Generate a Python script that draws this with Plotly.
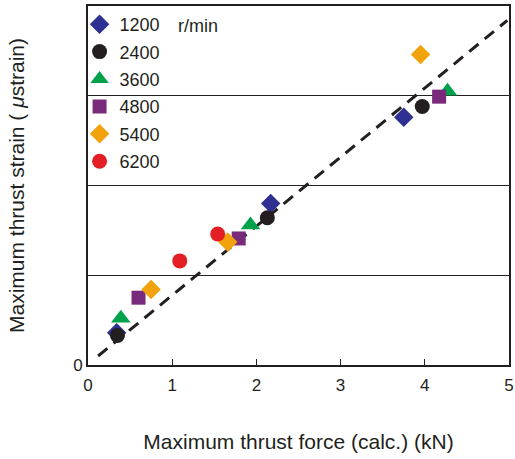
import plotly.graph_objects as go

# ---- data ----
speeds = ["1200", "2400", "3600", "4800", "5400", "6200"]
force_1200 = [0.34, 2.17, 3.75]
strain_1200 = [0.36, 1.80, 2.76]
force_2400 = [0.35, 2.13, 3.97]
strain_2400 = [0.33, 1.64, 2.88]
force_3600 = [0.39, 1.93, 4.27]
strain_3600 = [0.52, 1.56, 3.05]
force_4800 = [0.60, 1.79, 4.17]
strain_4800 = [0.75, 1.41, 2.99]
force_5400 = [0.75, 1.66, 3.95]
strain_5400 = [0.84, 1.37, 3.46]
force_6200 = [1.09, 1.54]
strain_6200 = [1.16, 1.46]
fit_force = [0.12, 4.98]
fit_strain = [0.10, 3.84]

x_ticks = [0, 1, 2, 3, 4, 5]
y_ticks = [0, 1, 2, 3, 4]
y_ticktext = ["0", "", "", "", ""]

series = [
    (speeds[0], force_1200, strain_1200, "diamond", "#2e3192", 15),
    (speeds[1], force_2400, strain_2400, "circle", "#231f20", 15),
    (speeds[2], force_3600, strain_3600, "triangle-up", "#00a14b", 17),
    (speeds[3], force_4800, strain_4800, "square", "#7a2a7a", 14),
    (speeds[4], force_5400, strain_5400, "diamond", "#f2a20c", 15),
    (speeds[5], force_6200, strain_6200, "circle", "#e31e24", 15),
]

TXT = "#231f20"
FONT = "Liberation Sans, Arial, sans-serif"

fig = go.Figure()
fig.add_trace(go.Scatter(
    x=fit_force, y=fit_strain, mode="lines", showlegend=False,
    line=dict(color=TXT, width=3, dash="12px,8px"), hoverinfo="skip"))

for name, xs, ys, sym, col, sz in series:
    fig.add_trace(go.Scatter(
        x=xs, y=ys, mode="markers", name=name, legendgroup=name,
        marker=dict(symbol=sym, color=col, size=sz, line=dict(width=0))))

fig.update_layout(
    width=515, height=459,
    margin=dict(l=87.5, r=6, t=6, b=94),
    paper_bgcolor="white", plot_bgcolor="white",
    font=dict(family=FONT, size=17, color=TXT),
    showlegend=True,
    legend=dict(x=-0.02, y=1, xanchor="left", yanchor="top",
                bgcolor="rgba(0,0,0,0)", borderwidth=0,
                font=dict(size=18, color=TXT), tracegroupgap=1,
                itemsizing="trace"),
    shapes=[dict(type="rect", xref="paper", yref="paper",
                 x0=0.004, x1=0.188, y0=0.505, y1=0.995,
                 fillcolor="white", line=dict(width=0), layer="between")],
    annotations=[dict(text="r/min", x=0.261, y=0.944, xref="paper", yref="paper",
                      xanchor="center", yanchor="middle",
                      showarrow=False, font=dict(size=18, color=TXT))],
)
fig.update_xaxes(
    range=[0, 5], tickvals=x_ticks, ticks="inside", ticklen=6, tickwidth=1,
    tickcolor=TXT, showgrid=False, zeroline=False, automargin=False,
    showline=True, linecolor=TXT, linewidth=2, mirror=True,
    tickfont=dict(size=17, color=TXT), ticklabelstandoff=4,
    ticklabeloverflow="allow",
    title=dict(text="Maximum thrust force (calc.) (kN)", standoff=40,
               font=dict(size=21, color=TXT)),
)
fig.update_yaxes(
    range=[0, 4], tickvals=y_ticks, ticktext=y_ticktext, ticks="",
    showgrid=True, gridcolor=TXT, gridwidth=1, zeroline=False, automargin=False,
    showline=True, linecolor=TXT, linewidth=2, mirror=True,
    tickfont=dict(size=17, color=TXT),
    title=dict(text="Maximum thrust strain ( <i>μ</i>strain)", standoff=43,
               font=dict(size=21, color=TXT)),
)

fig.write_html("out.html", config={"displayModeBar": False},
               post_script="document.body.style.margin='0';")
